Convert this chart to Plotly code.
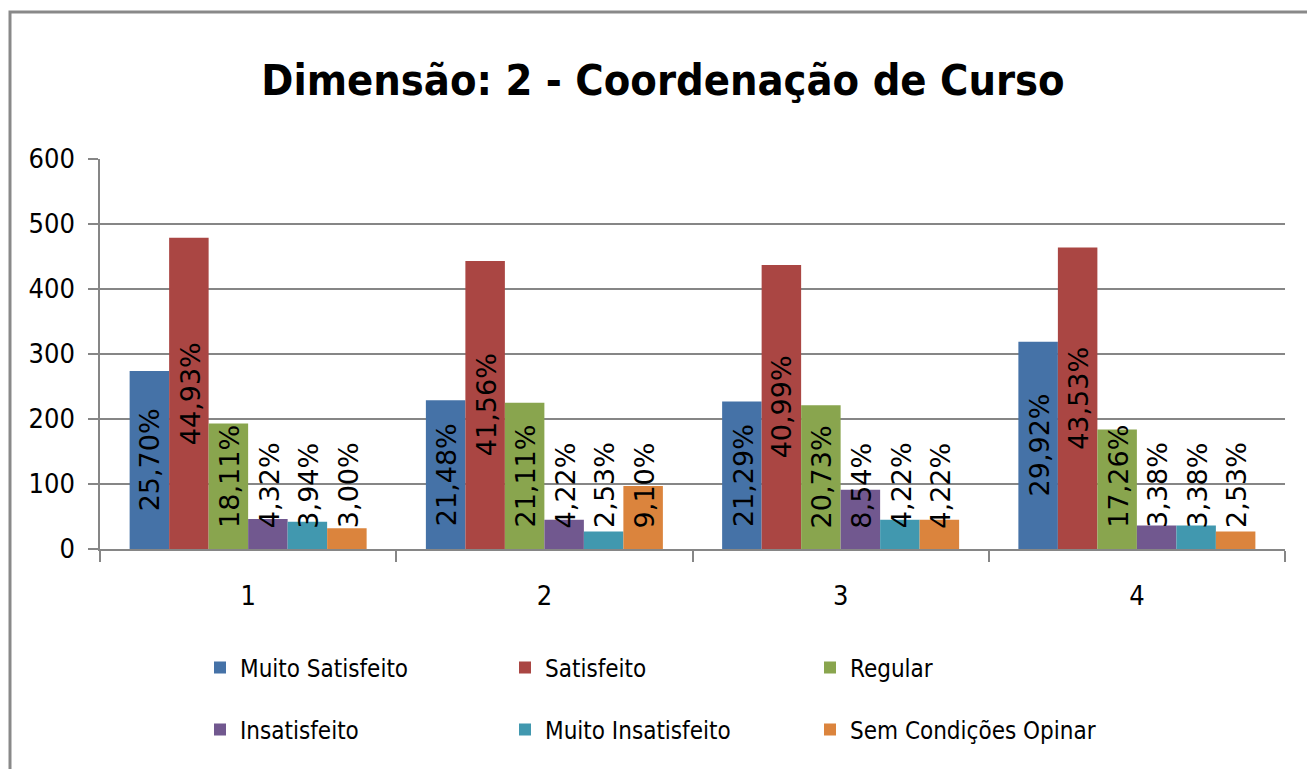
import plotly.graph_objects as go

categories = ["1", "2", "3", "4"]
series_names = ["Muito Satisfeito", "Satisfeito", "Regular",
                "Insatisfeito", "Muito Insatisfeito", "Sem Condições Opinar"]
colors = ["#4572A7", "#AA4643", "#89A54E", "#71588F", "#4198AF", "#DB843D"]

muito_satisfeito = [274, 229, 227, 319]
satisfeito = [479, 443, 437, 464]
regular = [193, 225, 221, 184]
insatisfeito = [46, 45, 91, 36]
muito_insatisfeito = [42, 27, 45, 36]
sem_condicoes = [32, 97, 45, 27]

pct_muito_satisfeito = [25.70, 21.48, 21.29, 29.92]
pct_satisfeito = [44.93, 41.56, 40.99, 43.53]
pct_regular = [18.11, 21.11, 20.73, 17.26]
pct_insatisfeito = [4.32, 4.22, 8.54, 3.38]
pct_muito_insatisfeito = [3.94, 2.53, 4.22, 3.38]
pct_sem_condicoes = [3.00, 9.10, 4.22, 2.53]

values = [muito_satisfeito, satisfeito, regular, insatisfeito,
          muito_insatisfeito, sem_condicoes]
pcts = [pct_muito_satisfeito, pct_satisfeito, pct_regular, pct_insatisfeito,
        pct_muito_insatisfeito, pct_sem_condicoes]

W, H = 1307, 769
ML, MR, MT, MB = 100, 22, 159, 220
plot_w = W - ML - MR
plot_h = H - MT - MB
y_max = 600
px_per_unit = plot_h / y_max
bargap = 0.2
bar_w = plot_w / len(categories) * (1 - bargap) / len(series_names)

NARROW = "Liberation Sans Narrow, DejaVu Sans Condensed, sans-serif"
LABEL_FONT = "DejaVu Sans, sans-serif"

fig = go.Figure()
for i, name in enumerate(series_names):
    fig.add_trace(go.Bar(
        x=categories, y=values[i], name=name,
        marker=dict(color=colors[i], line=dict(width=0)),
        legend="legend" if i < 3 else "legend2",
    ))

annotations = []
min_bottom = 20 / px_per_unit
char_px = 17.5
for i in range(len(series_names)):
    for j, cat in enumerate(categories):
        v = values[i][j]
        txt = f"{pcts[i][j]:.2f}%".replace(".", ",")
        half_len = len(txt) * char_px / 2 / px_per_unit
        yc = max(v / 2, min_bottom + half_len)
        annotations.append(dict(
            x=j, y=yc, xref="x", yref="y", text=txt, showarrow=False,
            textangle=-90, xanchor="center", yanchor="middle",
            xshift=(i - 2.5) * bar_w + 1,
            font=dict(family=LABEL_FONT, size=27, color="#000000"),
        ))

fig.update_layout(
    width=W, height=H,
    margin=dict(l=ML, r=MR, t=MT, b=MB),
    paper_bgcolor="white", plot_bgcolor="white",
    bargap=bargap, bargroupgap=0,
    title=dict(text="<b>Dimensão: 2 - Coordenação de Curso</b>",
               x=663 / W, xanchor="center", y=1 - 80 / H, yanchor="middle",
               font=dict(family=NARROW, size=43, color="#000000")),
    xaxis=dict(type="category", range=[-0.5, len(categories) - 0.5],
               showline=True, linecolor="#868686", linewidth=1.5,
               ticks="outside", tickson="boundaries", ticklen=11, tickcolor="#868686",
               tickwidth=1.5, showgrid=False, ticklabelstandoff=22,
               tickfont=dict(family=NARROW, size=27, color="#000000")),
    yaxis=dict(range=[0, y_max], dtick=100, showline=True, linecolor="#868686",
               linewidth=1.5, ticks="outside", ticklen=10, tickcolor="#868686",
               tickwidth=1.5, showgrid=True, gridcolor="#868686", gridwidth=1.5,
               zeroline=False, ticklabelstandoff=8,
               tickfont=dict(family=NARROW, size=27, color="#000000")),
    legend=dict(orientation="h", x=(200 - ML) / plot_w, xanchor="left",
                y=(MT + plot_h - 668) / plot_h, yanchor="middle",
                entrywidth=260, entrywidthmode="pixels",
                font=dict(family=NARROW, size=24, color="#000000")),
    legend2=dict(orientation="h", x=(200 - ML) / plot_w, xanchor="left",
                 y=(MT + plot_h - 730) / plot_h, yanchor="middle",
                 entrywidth=260, entrywidthmode="pixels",
                 font=dict(family=NARROW, size=24, color="#000000")),
    annotations=annotations,
    shapes=[dict(type="rect", xref="paper", yref="paper",
                 x0=(10 - ML) / plot_w, x1=1.3,
                 y0=-1.0, y1=(MT + plot_h - 12) / plot_h,
                 line=dict(color="#898989", width=3), fillcolor="rgba(0,0,0,0)",
                 layer="below")],
)

fig.write_html("out.html", config={"displayModeBar": False},
               post_script="document.body.style.margin='0';")
